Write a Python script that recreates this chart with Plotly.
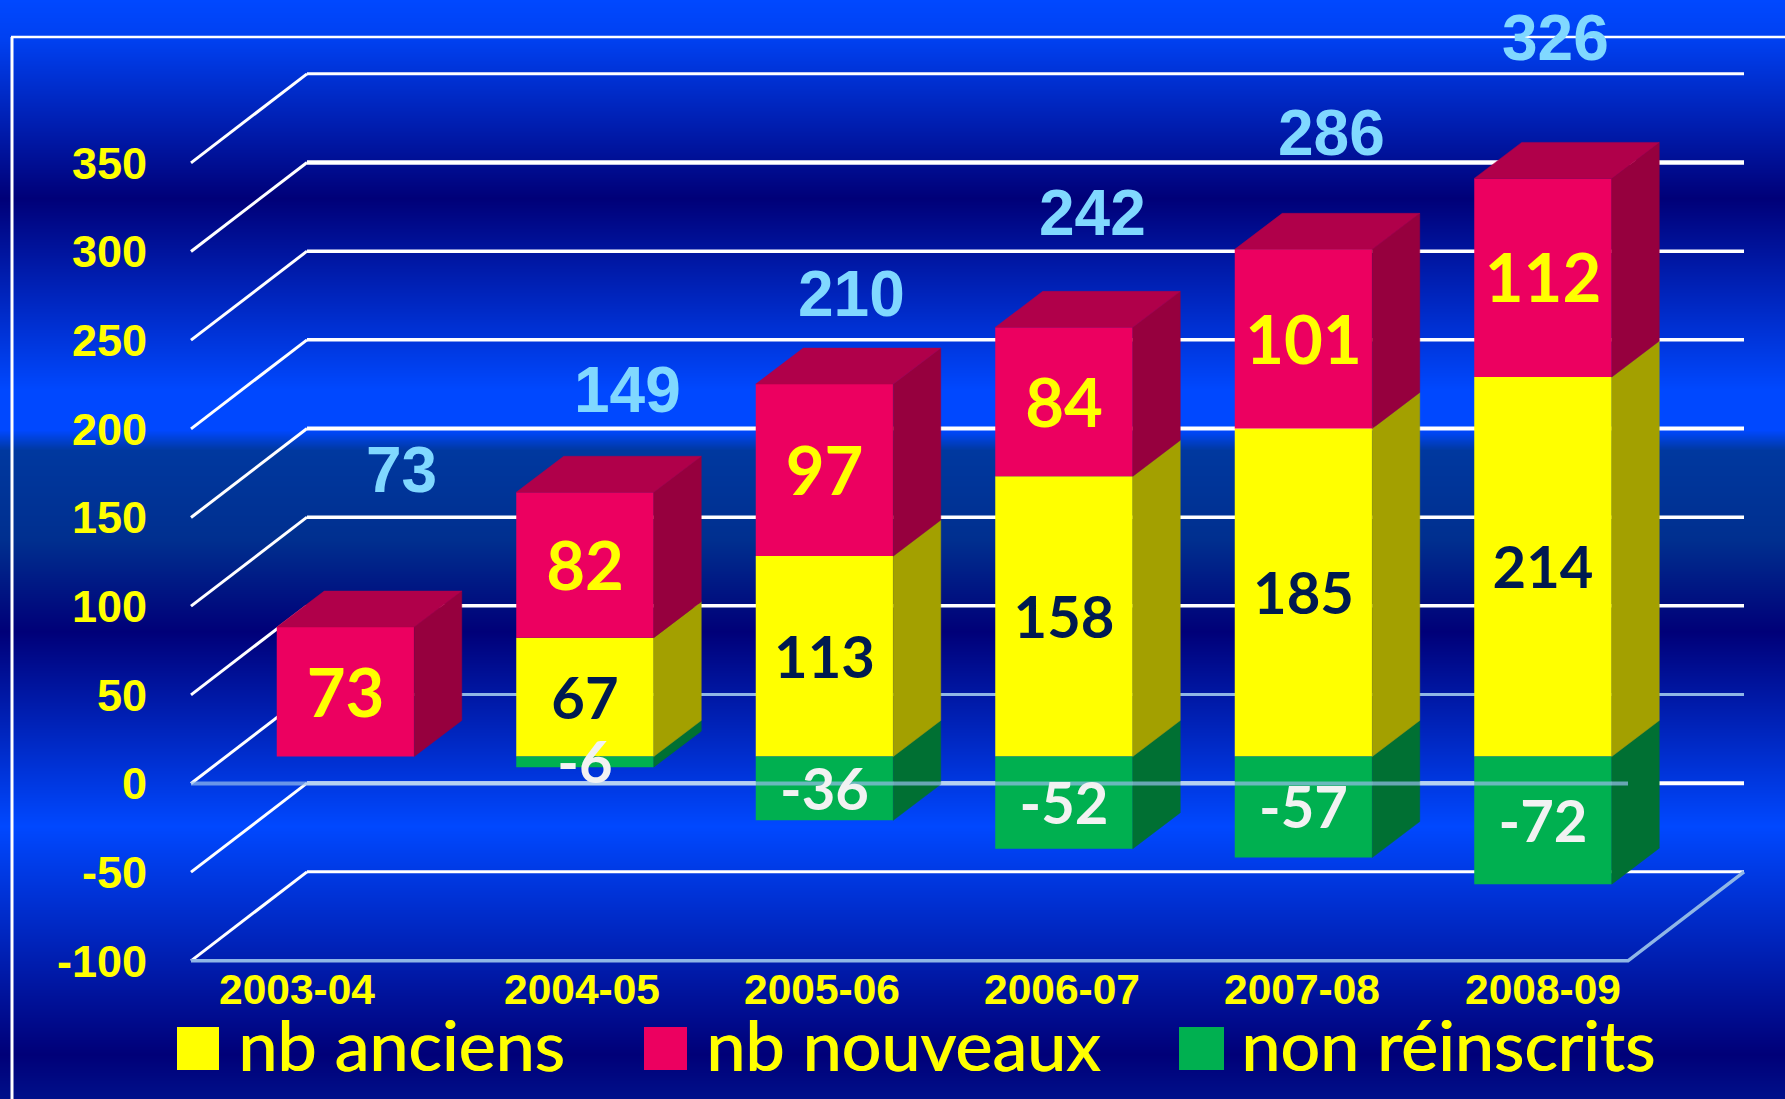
import numpy as np
import plotly.graph_objects as go

# ---- data ----
YEARS = ["2003-04", "2004-05", "2005-06", "2006-07", "2007-08", "2008-09"]
ANCIENS = [0, 67, 113, 158, 185, 214]
NOUVEAUX = [73, 82, 97, 84, 101, 112]
NON_REINSCRITS = [0, -6, -36, -52, -57, -72]
TOTALS = [73, 149, 210, 242, 286, 326]
Y_TICKS = [350, 300, 250, 200, 150, 100, 50, 0, -50, -100]

# ---- layout constants (pixels of the 1785x1099 page) ----
W, H = 1785, 1099
PX_PER_CAT = 239.5
PX_PER_VAL = 1.7733
FRONT_X0, FRONT_Y0 = 191.0, 783.5     # left end of the floor front, value 0
BAR_X0, BAR_Y0 = 345.5, 756.5         # centre of the first bar, value 0 of the bars
WALL_DX, WALL_DY = 116.0 / PX_PER_CAT, 89.0 / PX_PER_VAL
BAR_DX, BAR_DY = 47.5 / PX_PER_CAT, 36.0 / PX_PER_VAL
BAR_W = 137.5 / PX_PER_CAT
SHIFT_X = (BAR_X0 - FRONT_X0) / PX_PER_CAT - 0.5
SHIFT_Y = (FRONT_Y0 - BAR_Y0) / PX_PER_VAL

TICK_PX = [297, 582, 822, 1062, 1302, 1543]
TOTAL_PX = [(401, 470), (627, 390), (851, 294), (1092, 213), (1331, 133), (1555, 38)]

C_Y, C_Y_S = "#FFFF00", "#A3A000"
C_R, C_R_S, C_R_T = "#EC0060", "#96003E", "#B0004A"
C_G, C_G_S = "#00B050", "#007033"
C_LIGHT = "#8FB6E6"
FONT_AX = "Liberation Sans"
FONT_CAL = "Lato"

GRAD = [(0, "#0048FF"), (40, "#0040F0"), (198, "#000078"), (390, "#0048FF"),
        (430, "#0048FF"), (450, "#00389F"), (540, "#002F8F"), (631, "#000078"),
        (826, "#0048FF"), (1054, "#000078"), (1099, "#00108A")]


def front_x(px):
    return (px - FRONT_X0) / PX_PER_CAT - 0.5


def front_y(px):
    return (FRONT_Y0 - px) / PX_PER_VAL


fig = go.Figure()

# background gradient
rows = np.arange(0, H + 1, 1.0)
fig.add_trace(go.Heatmap(
    x=[front_x(-5), front_x(W + 5)], y=[front_y(p) for p in rows],
    z=[[p, p] for p in rows], zmin=0, zmax=H,
    colorscale=[[p / H, c] for p, c in GRAD], showscale=False,
    hoverinfo="skip", xaxis="x", yaxis="y"))

# walls of the 3D frame
LEFT = -0.5
RIGHT = 5.5
THICK = {350: 3, 300: 4.5, 250: 3.5, 200: 3.5, 150: 4, 100: 3.5, 50: 3.5, 0: 3, -50: 4, -100: 3}
for v in Y_TICKS:
    fig.add_trace(go.Scatter(
        x=[LEFT, LEFT + WALL_DX], y=[v, v + WALL_DY], mode="lines",
        line=dict(color="#FFFFFF", width=3), hoverinfo="skip", showlegend=False))
    fig.add_trace(go.Scatter(
        x=[LEFT + WALL_DX, RIGHT + WALL_DX], y=[v + WALL_DY, v + WALL_DY], mode="lines",
        line=dict(color=C_LIGHT if v == 0 else "#FFFFFF", width=THICK[v]),
        hoverinfo="skip", showlegend=False))
fig.add_trace(go.Scatter(
    x=[LEFT, RIGHT, RIGHT + WALL_DX], y=[-100, -100, -100 + WALL_DY], mode="lines",
    line=dict(color=C_LIGHT, width=3.5), hoverinfo="skip", showlegend=False))

# front faces, stacked by the library
xs = list(range(len(YEARS)))
for name, vals, col in [("nb anciens", ANCIENS, C_Y), ("nb nouveaux", NOUVEAUX, C_R),
                        ("non réinscrits", NON_REINSCRITS, C_G)]:
    fig.add_trace(go.Bar(x=xs, y=vals, name=name, width=BAR_W, marker=dict(color=col, line_width=0),
                         xaxis="x2", yaxis="y2", hoverinfo="skip", showlegend=False))


def polys(segments, kind):
    px, py = [], []
    for i, lo, hi in segments:
        if lo == hi:
            continue
        xr = i + BAR_W / 2
        xl = i - BAR_W / 2
        if kind == "side":
            px += [xr, xr, xr + BAR_DX, xr + BAR_DX, xr, None]
            py += [lo, hi, hi + BAR_DY, lo + BAR_DY, lo, None]
        else:
            px += [xl, xr, xr + BAR_DX, xl + BAR_DX, xl, None]
            py += [hi, hi, hi + BAR_DY, hi + BAR_DY, hi, None]
    return px, py


def add_poly(segments, kind, col):
    px, py = polys(segments, kind)
    fig.add_trace(go.Scatter(x=px, y=py, mode="lines", fill="toself", fillcolor=col,
                             line=dict(color=col, width=0.5), xaxis="x2", yaxis="y2",
                             hoverinfo="skip", showlegend=False))


seg_g = [(i, NON_REINSCRITS[i], 0) for i in xs]
seg_y = [(i, 0, ANCIENS[i]) for i in xs]
seg_r = [(i, ANCIENS[i], ANCIENS[i] + NOUVEAUX[i]) for i in xs]
add_poly(seg_g, "side", C_G_S)
add_poly(seg_y, "side", C_Y_S)
add_poly(seg_r, "side", C_R_S)
add_poly(seg_r, "top", C_R_T)

# front line of the floor at value 0, in front of the bars
fig.add_trace(go.Scatter(
    x=[LEFT - SHIFT_X, RIGHT - SHIFT_X], y=[-SHIFT_Y, -SHIFT_Y], mode="lines",
    line=dict(color="rgba(150,190,235,0.7)", width=4), xaxis="x2", yaxis="y2",
    hoverinfo="skip", showlegend=False))


# value labels
def add_labels(x, y, txt, col, size):
    drop = (8.0 * size / 67) / PX_PER_VAL
    fig.add_trace(go.Scatter(
        x=x, y=[v - drop for v in y], text=txt, mode="text", textposition="middle center",
        textfont=dict(family=FONT_CAL, size=size, color=col, weight=700),
        xaxis="x2", yaxis="y2", hoverinfo="skip", showlegend=False))


idx_y = [i for i in xs if ANCIENS[i]]
add_labels(idx_y, [ANCIENS[i] / 2 for i in idx_y], [str(ANCIENS[i]) for i in idx_y], "#001A50", 58)
add_labels(xs, [ANCIENS[i] + NOUVEAUX[i] / 2 for i in xs], [str(v) for v in NOUVEAUX], "#FFFF00", 67)
idx_g = [i for i in xs if NON_REINSCRITS[i]]
add_labels(idx_g, [NON_REINSCRITS[i] / 2 for i in idx_g], [str(NON_REINSCRITS[i]) for i in idx_g], "#F2F2F2", 58)

annotations = []
for t, (px, py) in zip(TOTALS, TOTAL_PX):
    annotations.append(dict(
        x=px / W, y=1 - py / H, xref="paper", yref="paper", text=str(t), showarrow=False,
        xanchor="center", yanchor="middle",
        font=dict(family=FONT_AX, size=64, color="#80D8FF", weight=700)))

# legend
LEG = [("nb anciens", C_Y, 177, 219, 236), ("nb nouveaux", C_R, 644, 687, 704),
       ("non réinscrits", C_G, 1179, 1224, 1239)]
shapes = [
    dict(type="line", xref="paper", yref="paper", x0=12 / W, x1=12 / W, y0=0, y1=1 - 37 / H,
         line=dict(color="#FFFFFF", width=3)),
    dict(type="line", xref="paper", yref="paper", x0=11 / W, x1=1, y0=1 - 37 / H, y1=1 - 37 / H,
         line=dict(color="#FFFFFF", width=2.5)),
]
for name, col, x0, x1, tx in LEG:
    shapes.append(dict(type="rect", xref="paper", yref="paper", x0=x0 / W, x1=x1 / W,
                       y0=1 - 1070 / H, y1=1 - 1027 / H, fillcolor=col, line_width=0))
    annotations.append(dict(
        x=tx / W, y=1 - 1044 / H, xref="paper", yref="paper", text=name, showarrow=False,
        xanchor="left", yanchor="middle",
        font=dict(family=FONT_CAL, size=70, color="#FFFF00", shadow="1px 0 0 #FFFF00")))

fig.update_layout(
    width=W, height=H, margin=dict(l=0, r=0, t=0, b=0, pad=0), barmode="relative",
    showlegend=False, paper_bgcolor="#0048FF", plot_bgcolor="rgba(0,0,0,0)",
    annotations=annotations, shapes=shapes,
    xaxis=dict(domain=[0, 1], range=[front_x(0), front_x(W)], anchor="free",
               position=1 - 960 / H, tickmode="array", tickvals=[front_x(p) for p in TICK_PX],
               ticktext=YEARS, showgrid=False, zeroline=False, showline=False, ticks="",
               ticklabelstandoff=0, tickangle=0,
               tickfont=dict(family=FONT_AX, size=42.5, color="#FFFF00", weight=700)),
    yaxis=dict(domain=[0, 1], range=[front_y(H), front_y(0)], anchor="free",
               position=FRONT_X0 / W, tickmode="array", tickvals=Y_TICKS,
               ticktext=[str(v) for v in Y_TICKS], showgrid=False, zeroline=False, showline=False,
               ticks="", ticklabelstandoff=44,
               tickfont=dict(family=FONT_AX, size=45, color="#FFFF00", weight=700)),
    xaxis2=dict(domain=[0, 1], overlaying="x", visible=False,
                range=[(0 - BAR_X0) / PX_PER_CAT, (W - BAR_X0) / PX_PER_CAT]),
    yaxis2=dict(domain=[0, 1], overlaying="y", visible=False,
                range=[(BAR_Y0 - H) / PX_PER_VAL, BAR_Y0 / PX_PER_VAL]),
)

fig.write_html("out.html", config=dict(displayModeBar=False),
               post_script="document.body.style.margin='0';document.body.style.overflow='hidden';")
